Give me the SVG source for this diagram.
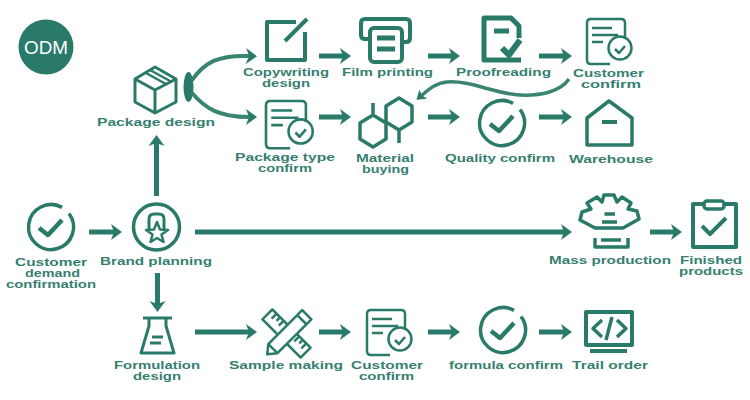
<svg xmlns="http://www.w3.org/2000/svg" xmlns:xlink="http://www.w3.org/1999/xlink" width="750" height="400" viewBox="0 0 750 400">
<style>
text{font-family:"Liberation Sans",Arial,sans-serif;font-weight:700;font-size:10.5px;fill:#367f70;text-anchor:start}
.i{fill:none;stroke:#2a7a6a;stroke-width:3.5;stroke-linejoin:round}
.t{fill:none;stroke:#2a7a6a;stroke-width:2.5;stroke-linejoin:round}
.c path,.c line{fill:none;stroke:#2a7a6a;stroke-width:5}
</style>
<defs>
<marker id="a" markerUnits="userSpaceOnUse" markerWidth="14" markerHeight="18" refX="3" refY="8" orient="auto" overflow="visible"><path d="M0,0L11,8L0,16L3,8Z" fill="#2a7a6a"/></marker>
<marker id="b" markerUnits="userSpaceOnUse" markerWidth="14" markerHeight="14" refX="3" refY="6" orient="auto" overflow="visible"><path d="M0,0L9,6L0,12L2,6Z" fill="#2a7a6a"/></marker>
<g id="doc" class="t"><path d="M23,45H4Q0,45 0,41V4Q0,0 4,0H34Q38,0 38,4V20"/><path d="M5,9H25M5,16H31M5,23H16"/><circle cx="33" cy="29" r="11.5"/><path d="M28,30L32,34L38,27"/></g>
<g id="ok" class="i"><path d="M18,-13.500A22.500,22.500 0 1 1 11,-19.600"/><path d="M-12,1L-3,8L11,-7" stroke-width="4.500"/></g>
</defs>
<rect width="750" height="400" fill="#fff"/>
<g id="odm"><circle cx="46" cy="47" r="27.500" fill="#2a7a6a"/><text x="24" y="54" textLength="44" lengthAdjust="spacingAndGlyphs" style="fill:#fff;font-weight:400;font-size:19px">ODM</text></g>
<g id="connectors" class="c">
<path d="M319,56H343" marker-end="url(#a)"/><path d="M428,56H452" marker-end="url(#a)"/><path d="M539,56H564" marker-end="url(#a)"/>
<path d="M319,117H343" marker-end="url(#a)"/><path d="M428,117H452" marker-end="url(#a)"/><path d="M539,117H564" marker-end="url(#a)"/>
<ellipse cx="188.500" cy="87" rx="5" ry="15" fill="#2a7a6a"/>
<path d="M192,80C205,62 218,55 249,56" marker-end="url(#a)" style="stroke-width:4;stroke:#3a8571"/>
<path d="M192,93C205,108 218,117 249,117" marker-end="url(#a)" style="stroke-width:4;stroke:#3a8571"/>
<path d="M569,79C560,92 540,96 520,95C495,94 470,80 447,82C435,83 427,91 421,96" marker-end="url(#b)" style="stroke-width:3.500;stroke:#3a8571"/>
<path d="M156.500,196V143" marker-end="url(#a)"/>
<path d="M89,232H114" marker-end="url(#a)"/>
<path d="M195,232H564" marker-end="url(#a)"/>
<path d="M650,232H674" marker-end="url(#a)"/>
<path d="M157.500,273V304" marker-end="url(#a)"/>
<path d="M195,332H249" marker-end="url(#a)"/><path d="M319,332H343" marker-end="url(#a)"/><path d="M428,332H452" marker-end="url(#a)"/><path d="M539,332H564" marker-end="url(#a)"/>
</g>
<g id="package-design"><path class="i" d="M155,67L176,79V102L155,113L135,102V79ZM135,79L155,90L176,79M155,90V113" style="stroke-width:3"/><path class="i" d="M145,72.500L166,84M150,70L171,81.500" style="stroke-width:2.500"/><text x="97" y="126" textLength="118" lengthAdjust="spacingAndGlyphs">Package design</text></g>
<g id="copywriting-design"><path class="i" d="M296,22H267V60H305V32" style="stroke-width:4"/><path class="i" d="M285,41L307,19" style="stroke-width:4"/><text x="243" y="76" textLength="86" lengthAdjust="spacingAndGlyphs">Copywriting</text><text x="262" y="87" textLength="48" lengthAdjust="spacingAndGlyphs">design</text></g>
<g id="film-printing"><path class="i" d="M370,39H365Q361,39 361,35V23Q361,19 365,19H406Q410,19 410,23V38Q410,42 406,42H402" style="stroke-width:4"/><rect class="i" x="370" y="28" width="32" height="34" rx="4" style="stroke-width:4;fill:#fff"/><path class="i" d="M377,38H395M377,49H395" style="stroke-width:5"/><text x="342" y="76" textLength="91" lengthAdjust="spacingAndGlyphs">Film printing</text></g>
<g id="proofreading"><path class="i" d="M519,38V26L511,18H484V60H521" style="stroke-width:5"/><path class="i" d="M494,31H509" style="stroke-width:5"/><path class="i" d="M502,48L509,55L520,40" style="stroke-width:6"/><text x="456" y="76" textLength="95" lengthAdjust="spacingAndGlyphs">Proofreading</text></g>
<g id="customer-confirm-1"><use href="#doc" xlink:href="#doc" x="587" y="19"/><text x="573" y="77" textLength="71" lengthAdjust="spacingAndGlyphs">Customer</text><text x="581" y="88" textLength="60" lengthAdjust="spacingAndGlyphs">confirm</text></g>
<g id="package-type-confirm"><use href="#doc" xlink:href="#doc" transform="translate(266,101) scale(1.05)"/><text x="235" y="161" textLength="100" lengthAdjust="spacingAndGlyphs">Package type</text><text x="258" y="172" textLength="54" lengthAdjust="spacingAndGlyphs">confirm</text></g>
<g id="material-buying"><path class="i" d="M399,98L412,106V122L399,130L386,122V106ZM399,130V143M373,115L386,123V139L373,147L360,139V123ZM373,103V115"/><text x="356" y="162" textLength="58" lengthAdjust="spacingAndGlyphs">Material</text><text x="362" y="173" textLength="47" lengthAdjust="spacingAndGlyphs">buying</text></g>
<g id="quality-confirm"><use href="#ok" xlink:href="#ok" x="502" y="123"/><text x="445" y="162" textLength="110" lengthAdjust="spacingAndGlyphs">Quality confirm</text></g>
<g id="warehouse"><path class="i" d="M587,145H632V118L609,101L587,118Z"/><path class="i" d="M602,122H617" style="stroke-width:4"/><text x="569" y="163" textLength="84" lengthAdjust="spacingAndGlyphs">Warehouse</text></g>
<g id="customer-demand"><use href="#ok" xlink:href="#ok" x="51" y="227"/><text x="15" y="266" textLength="72" lengthAdjust="spacingAndGlyphs">Customer</text><text x="25" y="277" textLength="55" lengthAdjust="spacingAndGlyphs">demand</text><text x="6" y="288" textLength="90" lengthAdjust="spacingAndGlyphs">confirmation</text></g>
<g id="brand-planning"><circle class="i" cx="156.500" cy="227" r="23"/><path class="i" d="M149,229V219Q149,214 154,214H159Q164,214 164,219V229" style="stroke-width:3"/><path class="i" d="M157,222L160,229.500L168,230L161.500,234.500L163.500,242L157,238L150.500,242L152.500,234.500L146,230L154,229.500Z" style="stroke-width:2.500;fill:#fff"/><text x="100" y="265" textLength="112" lengthAdjust="spacingAndGlyphs">Brand planning</text></g>
<g id="mass-production"><path class="i" d="M595,228H623L639,219L637,211L628,209L631,203L622,197L617,202L614,195H604L602,202L597,197L587,203L591,209L582,212L580,220Z"/><path class="i" d="M604.500,214H615M602,222H617M595,238V247H628V238M601,240H621"/><text x="549" y="264" textLength="122" lengthAdjust="spacingAndGlyphs">Mass production</text></g>
<g id="finished-products"><rect class="i" x="693" y="204" width="43" height="43" style="stroke-width:4"/><rect class="i" x="704" y="201" width="20" height="8" rx="3" style="stroke-width:3.500;fill:#fff"/><path class="i" d="M702,226L710,234L726,218" style="stroke-width:4"/><text x="680" y="264" textLength="62" lengthAdjust="spacingAndGlyphs">Finished</text><text x="679" y="275" textLength="64" lengthAdjust="spacingAndGlyphs">products</text></g>
<g id="formulation-design"><path class="i" d="M143,318H172M149,318V326L141,353H174L166,326V318M152,337H163M150,343H161" style="stroke-width:3"/><text x="114" y="369" textLength="86" lengthAdjust="spacingAndGlyphs">Formulation</text><text x="133" y="380" textLength="48" lengthAdjust="spacingAndGlyphs">design</text></g>
<g id="sample-making"><g transform="translate(286.500,333.500) rotate(45)"><rect class="t" x="-27" y="-7" width="54" height="14" style="fill:#fff"/><path class="t" d="M-21,-7V0M-16,-7V-2M-11,-7V0M11,-7V0M16,-7V-2M21,-7V0"/></g><g transform="translate(287,334.500) rotate(-45)"><path class="t" d="M-28,0L-20,-6.500H28V6.500H-20ZM-20,-6.500V6.500M21,-6.500V6.500" style="fill:#fff"/></g><text x="229" y="369" textLength="114" lengthAdjust="spacingAndGlyphs">Sample making</text></g>
<g id="customer-confirm-2"><use href="#doc" xlink:href="#doc" x="367" y="310"/><text x="351" y="369" textLength="72" lengthAdjust="spacingAndGlyphs">Customer</text><text x="359" y="380" textLength="55" lengthAdjust="spacingAndGlyphs">confirm</text></g>
<g id="formula-confirm"><use href="#ok" xlink:href="#ok" x="503" y="330"/><text x="449" y="369" textLength="114" lengthAdjust="spacingAndGlyphs">formula confirm</text></g>
<g id="trail-order"><rect class="i" x="586" y="312" width="46" height="33" style="stroke-width:4"/><path class="i" d="M590,351H627" style="stroke-width:4"/><path class="i" d="M602,320L593,328.500L602,337M617,320L626,328.500L617,337M612,317L606,340" style="stroke-width:3.500"/><text x="572" y="369" textLength="76" lengthAdjust="spacingAndGlyphs">Trail order</text></g>
</svg>
